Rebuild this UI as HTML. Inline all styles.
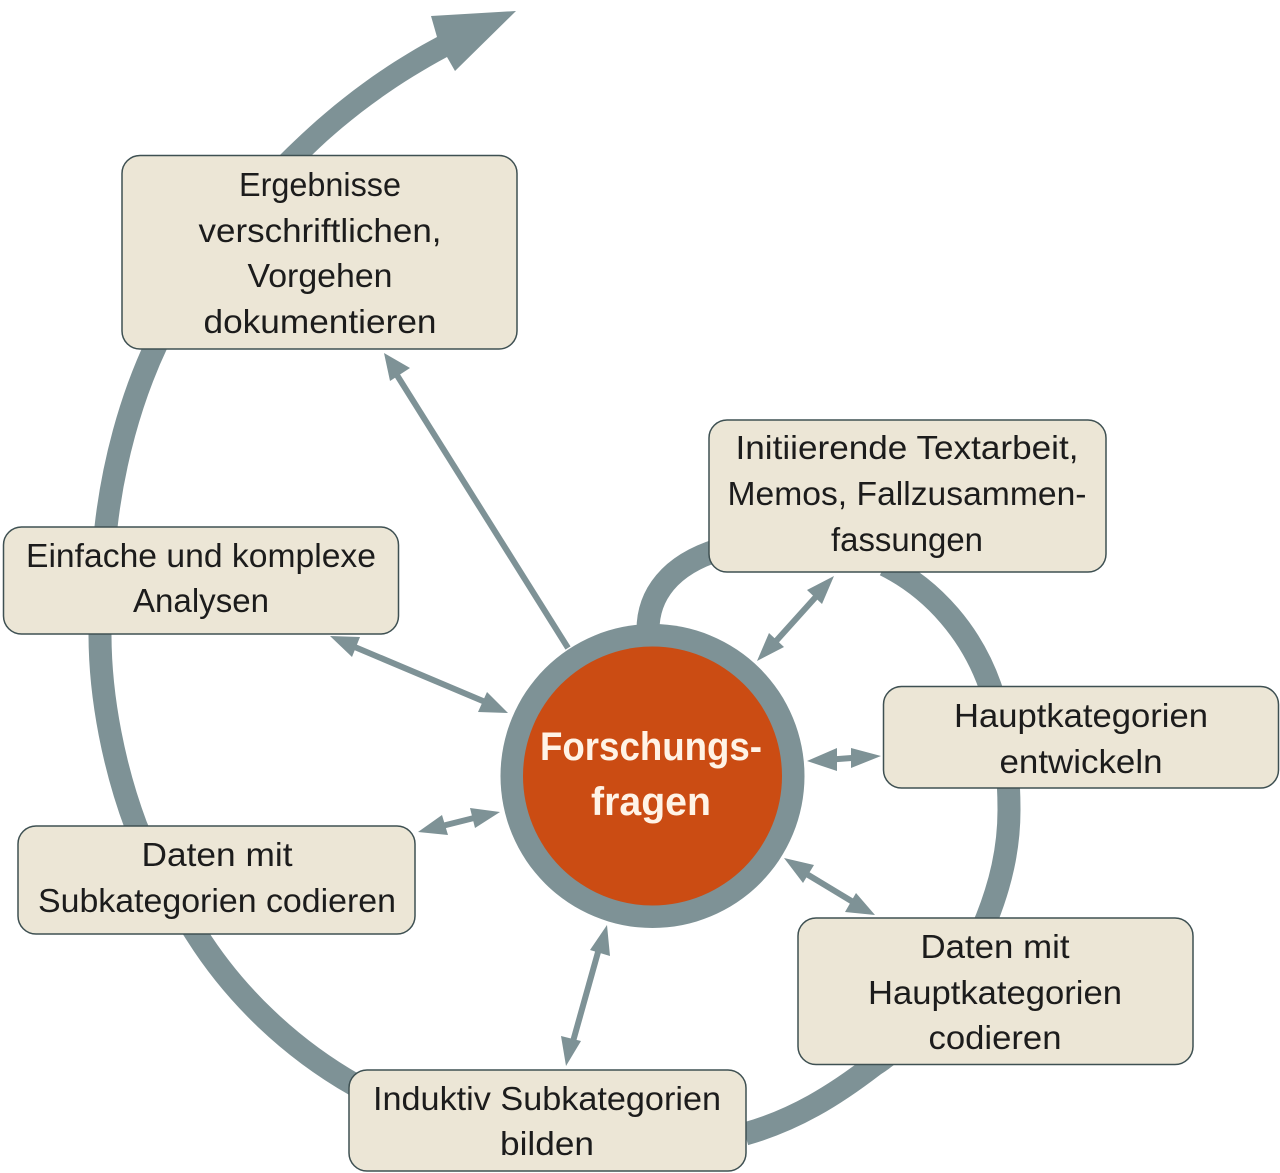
<!DOCTYPE html>
<html><head><meta charset="utf-8"><style>
html,body{margin:0;padding:0;background:#fff}
svg{display:block}
text{font-family:"Liberation Sans",sans-serif;fill:#1c1c1c;font-size:33px;text-anchor:middle}
.b{fill:#ece6d6;stroke:#3e5052;stroke-width:1.5}
.t{fill:none;stroke:#7e9296;stroke-width:23}
.a{stroke:#7e9296;stroke-width:6;fill:none}
.h{fill:#7e9296}
</style></head><body>
<svg width="1280" height="1173" viewBox="0 0 1280 1173" xmlns="http://www.w3.org/2000/svg">
<!-- thick spiral -->
<path class="t" d="M648 630C648 595 670 565 718 550"/>
<path class="t" d="M885 565C935 590 972 635 990 686C1002 720 1009 760 1009 810C1009 850 1000 885 987 918C960 985 920 1035 874 1065C835 1095 795 1120 745 1134"/>
<path class="t" d="M355 1085C290 1048 235 995 197 935C165 885 150 860 136 826C115 770 100 700 100 634C100 600 103 560 106 527C113 465 130 400 157 343"/>
<path class="h" d="M280 155C325 110 375 70 437 37L431 16L516 11L455 71L447 57C395 85 350 118 312 155Z"/>
<!-- thin arrows -->
<path class="a" d="M568 648L395 372"/><path class="h" d="M384 353L410 368L390 381Z"/>
<path class="a" d="M350 645L490 704"/><path class="h" d="M330 636L360 637L352 657Z"/><path class="h" d="M508 713L478 712L487 692Z"/>
<path class="a" d="M768 650L822 590"/><path class="h" d="M757 661L769 633L784 647Z"/><path class="h" d="M834 576L822 604L807 590Z"/>
<path class="a" d="M825 760L865 757"/><path class="h" d="M807 761L837 748L837 771Z"/><path class="h" d="M881 756L851 748L851 768Z"/>
<path class="a" d="M438 827L482 816"/><path class="h" d="M418 832L442 815L448 835Z"/><path class="h" d="M500 812L470 808L475 828Z"/>
<path class="a" d="M800 870L858 905"/><path class="h" d="M784 858L814 865L803 883Z"/><path class="h" d="M875 915L845 912L856 893Z"/>
<path class="a" d="M600 945L572 1045"/><path class="h" d="M607 925L610 956L590 950Z"/><path class="h" d="M566 1066L561 1036L581 1041Z"/>
<!-- center -->
<circle cx="652.5" cy="776" r="152" fill="#7e9296"/>
<circle cx="652.5" cy="776" r="129.500" fill="#cb4c13"/>
<text x="651" y="760" style="font-size:40px;font-weight:bold;fill:#fff3e6" textLength="222" lengthAdjust="spacingAndGlyphs">Forschungs-</text>
<text x="651" y="815" style="font-size:40px;font-weight:bold;fill:#fff3e6" textLength="120" lengthAdjust="spacingAndGlyphs">fragen</text>
<!-- boxes -->
<rect class="b" x="122" y="155.500" width="395" height="193.500" rx="18"/>
<text x="320" y="196" textLength="162" lengthAdjust="spacingAndGlyphs">Ergebnisse</text>
<text x="320" y="242" textLength="243" lengthAdjust="spacingAndGlyphs">verschriftlichen,</text>
<text x="320" y="287" textLength="145" lengthAdjust="spacingAndGlyphs">Vorgehen</text>
<text x="320" y="333" textLength="233" lengthAdjust="spacingAndGlyphs">dokumentieren</text>
<rect class="b" x="709" y="420" width="397" height="152" rx="18"/>
<text x="907" y="459" textLength="343" lengthAdjust="spacingAndGlyphs">Initiierende Textarbeit,</text>
<text x="907" y="505" textLength="359" lengthAdjust="spacingAndGlyphs">Memos, Fallzusammen-</text>
<text x="907" y="551" textLength="152" lengthAdjust="spacingAndGlyphs">fassungen</text>
<rect class="b" x="3.500" y="527" width="395" height="107" rx="18"/>
<text x="201" y="567" textLength="350" lengthAdjust="spacingAndGlyphs">Einfache und komplexe</text>
<text x="201" y="612" textLength="136" lengthAdjust="spacingAndGlyphs">Analysen</text>
<rect class="b" x="883.500" y="686.500" width="395" height="101.500" rx="18"/>
<text x="1081" y="727" textLength="254" lengthAdjust="spacingAndGlyphs">Hauptkategorien</text>
<text x="1081" y="773" textLength="163" lengthAdjust="spacingAndGlyphs">entwickeln</text>
<rect class="b" x="18" y="826" width="397" height="108" rx="18"/>
<text x="217" y="866" textLength="151" lengthAdjust="spacingAndGlyphs">Daten mit</text>
<text x="217" y="912" textLength="358" lengthAdjust="spacingAndGlyphs">Subkategorien codieren</text>
<rect class="b" x="798" y="918" width="395" height="146.500" rx="18"/>
<text x="995" y="958" textLength="149" lengthAdjust="spacingAndGlyphs">Daten mit</text>
<text x="995" y="1004" textLength="254" lengthAdjust="spacingAndGlyphs">Hauptkategorien</text>
<text x="995" y="1049" textLength="133" lengthAdjust="spacingAndGlyphs">codieren</text>
<rect class="b" x="349" y="1070" width="397" height="101" rx="18"/>
<text x="547" y="1110" textLength="348" lengthAdjust="spacingAndGlyphs">Induktiv Subkategorien</text>
<text x="547" y="1155" textLength="94" lengthAdjust="spacingAndGlyphs">bilden</text>
</svg>
</body></html>
